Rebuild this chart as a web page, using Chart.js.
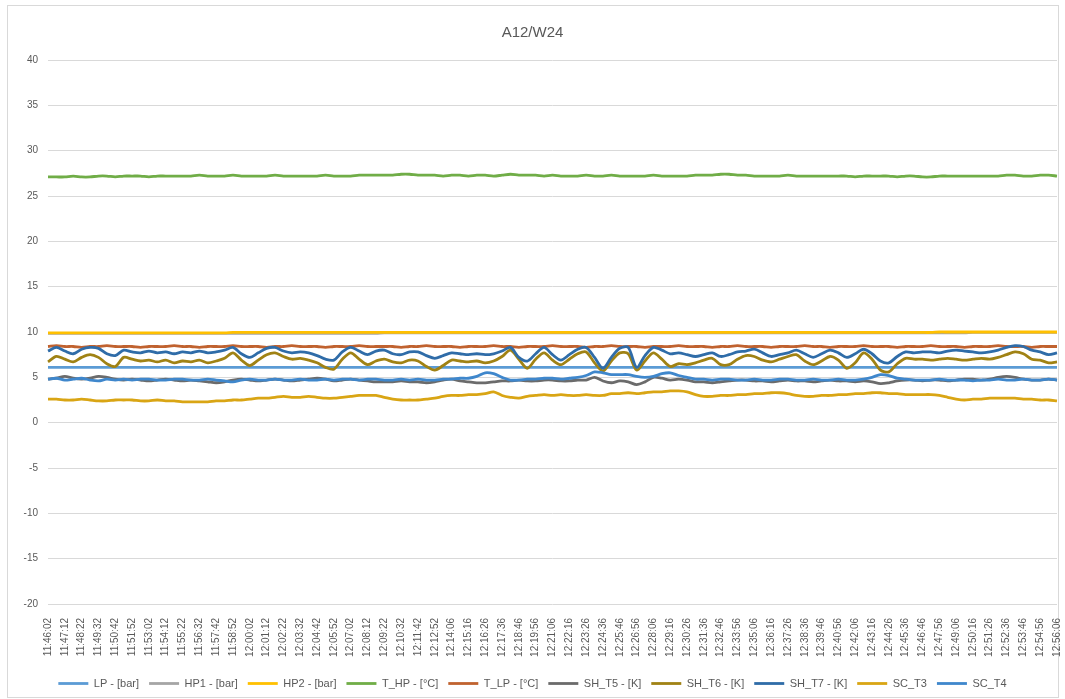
<!DOCTYPE html>
<html>
<head>
<meta charset="utf-8">
<script src="https://cdn.jsdelivr.net/npm/chart.js@4.4.1/dist/chart.umd.min.js"></script>
<style>
  html, body { margin: 0; padding: 0; background: #fff; }
  #frame { position: absolute; left: 7px; top: 5px; width: 1050px; height: 691px; border: 1px solid #d9d9d9; }
  #wrap { position: absolute; left: 0; top: 0; width: 1065px; height: 699px; }
</style>
</head>
<body>
<div id="frame"></div>
<div id="wrap"><canvas id="chart"></canvas></div>
<script>
// time labels shown on the x axis (one every 70 s), data every ~35 s
const tickLabels = [
  '11:46:02','11:47:12','11:48:22','11:49:32','11:50:42','11:51:52','11:53:02','11:54:12',
  '11:55:22','11:56:32','11:57:42','11:58:52','12:00:02','12:01:12','12:02:22','12:03:32',
  '12:04:42','12:05:52','12:07:02','12:08:12','12:09:22','12:10:32','12:11:42','12:12:52',
  '12:14:06','12:15:16','12:16:26','12:17:36','12:18:46','12:19:56','12:21:06','12:22:16',
  '12:23:26','12:24:36','12:25:46','12:26:56','12:28:06','12:29:16','12:30:26','12:31:36',
  '12:32:46','12:33:56','12:35:06','12:36:16','12:37:26','12:38:36','12:39:46','12:40:56',
  '12:42:06','12:43:16','12:44:26','12:45:36','12:46:46','12:47:56','12:49:06','12:50:16',
  '12:51:26','12:52:36','12:53:46','12:54:56','12:56:06'
];

const seriesNames = ['LP - [bar]', 'HP1 - [bar]', 'HP2 - [bar]', 'T_HP - [°C]', 'T_LP - [°C]',
  'SH_T5 - [K]', 'SH_T6 - [K]', 'SH_T7 - [K]', 'SC_T3', 'SC_T4'];
const seriesColors = ['#5b9bd5', '#a5a5a5', '#ffc000', '#70ad47', '#c0622f',
  '#6b6b6b', '#a08214', '#2f6ca8', '#d9a514', '#3f87cc'];

const lp = [
  6.1,6.1,6.1,6.1,6.1,6.1,6.1,6.1,6.1,6.1,
  6.1,6.1,6.1,6.1,6.1,6.1,6.1,6.1,6.1,6.1,
  6.1,6.1,6.1,6.1,6.1,6.1,6.1,6.1,6.1,6.1,
  6.1,6.1,6.1,6.1,6.1,6.1,6.1,6.1,6.1,6.1,
  6.1,6.1,6.1,6.1,6.1,6.1,6.1,6.1,6.1,6.1,
  6.1,6.1,6.1,6.1,6.1,6.1,6.1,6.1,6.1,6.1,
  6.1,6.1,6.1,6.1,6.1,6.1,6.1,6.1,6.1,6.1,
  6.1,6.1,6.1,6.1,6.1,6.1,6.1,6.1,6.1,6.1,
  6.1,6.1,6.1,6.1,6.1,6.1,6.1,6.1,6.1,6.1,
  6.1,6.1,6.1,6.1,6.1,6.1,6.1,6.1,6.1,6.1,
  6.1,6.1,6.1,6.1,6.1,6.1,6.1,6.1,6.1,6.1,
  6.1,6.1,6.1,6.1,6.1,6.1,6.1,6.1,6.1,6.1,
  6.1
];
const hp1 = [
  9.85,9.85,9.85,9.85,9.85,9.85,9.85,9.85,9.85,9.85,
  9.85,9.85,9.85,9.85,9.85,9.85,9.85,9.85,9.85,9.85,
  9.85,9.85,9.85,9.85,9.85,9.85,9.85,9.85,9.85,9.85,
  9.85,9.85,9.85,9.85,9.85,9.85,9.85,9.85,9.85,9.85,
  9.9,9.9,9.9,9.9,9.9,9.9,9.9,9.9,9.9,9.9,
  9.9,9.9,9.9,9.9,9.9,9.9,9.9,9.9,9.9,9.9,
  9.9,9.9,9.9,9.9,9.9,9.9,9.9,9.9,9.9,9.9,
  9.9,9.9,9.9,9.9,9.9,9.9,9.9,9.9,9.9,9.9,
  9.9,9.9,9.9,9.9,9.9,9.9,9.9,9.9,9.9,9.9,
  9.9,9.9,9.9,9.9,9.9,9.9,9.9,9.9,9.9,9.9,
  9.9,9.9,9.9,9.9,9.9,9.9,9.9,9.9,9.9,9.9,
  9.95,9.95,9.95,9.95,9.95,9.95,9.95,9.95,9.95,9.95,
  9.95
];
const hp2 = [
  9.9,9.9,9.9,9.9,9.9,9.9,9.9,9.9,9.9,9.9,
  9.9,9.9,9.9,9.9,9.9,9.9,9.9,9.9,9.9,9.9,
  9.9,9.9,9.95,9.95,9.95,9.95,9.95,9.95,9.95,9.95,
  9.95,9.95,9.95,9.95,9.95,9.95,9.95,9.95,9.95,9.95,
  9.95,9.95,9.95,9.95,9.95,9.95,9.95,9.95,9.95,9.95,
  9.95,9.95,9.95,9.95,9.95,9.95,9.95,9.95,9.95,9.95,
  9.95,9.95,9.95,9.95,9.95,9.95,9.95,9.95,9.95,9.95,
  9.95,9.95,9.95,9.95,9.95,9.95,9.95,9.95,9.95,9.95,
  9.95,9.95,9.95,9.95,9.95,9.95,9.95,9.95,9.95,9.95,
  9.95,9.95,9.95,9.95,9.95,9.95,9.95,9.95,9.95,9.95,
  9.95,9.95,9.95,9.95,9.95,9.95,10.0,10.0,10.0,10.0,
  10.0,10.0,10.0,10.0,10.0,10.0,10.0,10.0,10.0,10.0,
  10.0
];
const tHp = [
  27.1,27.1,27.1,27.2,27.1,27.1,27.2,27.2,27.1,27.2,
  27.2,27.2,27.1,27.2,27.2,27.2,27.2,27.2,27.3,27.2,
  27.2,27.2,27.3,27.2,27.2,27.2,27.2,27.3,27.2,27.2,
  27.2,27.2,27.2,27.3,27.2,27.2,27.2,27.3,27.3,27.3,
  27.3,27.3,27.4,27.4,27.3,27.3,27.3,27.2,27.3,27.3,
  27.2,27.3,27.3,27.2,27.3,27.4,27.3,27.3,27.3,27.2,
  27.3,27.2,27.2,27.2,27.3,27.2,27.2,27.3,27.2,27.2,
  27.2,27.2,27.3,27.2,27.2,27.2,27.2,27.3,27.3,27.3,
  27.4,27.4,27.3,27.3,27.2,27.2,27.2,27.2,27.3,27.2,
  27.2,27.2,27.2,27.2,27.2,27.2,27.1,27.2,27.2,27.2,
  27.2,27.1,27.2,27.2,27.1,27.1,27.2,27.2,27.2,27.2,
  27.2,27.2,27.2,27.2,27.3,27.3,27.2,27.2,27.3,27.3,
  27.2
];
const tLp = [
  8.4,8.5,8.4,8.4,8.3,8.4,8.4,8.5,8.4,8.4,
  8.4,8.3,8.4,8.4,8.4,8.5,8.4,8.4,8.3,8.4,
  8.4,8.4,8.5,8.4,8.4,8.4,8.3,8.4,8.4,8.5,
  8.4,8.4,8.4,8.3,8.4,8.4,8.4,8.5,8.4,8.4,
  8.4,8.4,8.3,8.4,8.4,8.5,8.4,8.4,8.4,8.3,
  8.4,8.4,8.4,8.5,8.4,8.4,8.3,8.4,8.4,8.4,
  8.5,8.4,8.4,8.4,8.3,8.4,8.4,8.5,8.4,8.4,
  8.4,8.3,8.4,8.4,8.4,8.5,8.4,8.4,8.4,8.3,
  8.4,8.4,8.5,8.4,8.4,8.4,8.3,8.4,8.4,8.4,
  8.5,8.4,8.4,8.3,8.4,8.4,8.4,8.5,8.4,8.4,
  8.4,8.3,8.4,8.4,8.4,8.5,8.4,8.4,8.4,8.3,
  8.4,8.4,8.4,8.5,8.4,8.4,8.4,8.3,8.4,8.4,
  8.4
];
const shT5 = [
  4.8,4.9,5.1,4.9,4.8,4.9,5.1,5.0,4.8,4.7,
  4.8,4.7,4.6,4.7,4.8,4.7,4.6,4.7,4.6,4.5,
  4.4,4.5,4.7,4.8,4.7,4.6,4.7,4.8,4.7,4.6,
  4.7,4.8,4.9,4.8,4.6,4.7,4.8,4.7,4.6,4.5,
  4.5,4.5,4.6,4.5,4.5,4.4,4.5,4.7,4.8,4.6,
  4.5,4.4,4.4,4.5,4.6,4.6,4.7,4.6,4.6,4.7,
  4.7,4.6,4.6,4.7,4.7,5.0,4.6,4.4,4.6,4.5,
  4.2,4.5,5.0,4.9,4.7,4.8,4.7,4.5,4.5,4.4,
  4.5,4.6,4.7,4.7,4.6,4.6,4.5,4.6,4.7,4.6,
  4.6,4.5,4.6,4.7,4.6,4.6,4.5,4.6,4.5,4.3,
  4.4,4.6,4.7,4.7,4.6,4.7,4.7,4.6,4.7,4.8,
  4.8,4.7,4.8,5.0,5.1,5.0,4.8,4.7,4.7,4.8,
  4.7
];
const shT6 = [
  6.7,7.3,7.0,6.7,7.2,7.5,7.2,6.5,6.2,7.2,
  7.0,6.8,6.9,6.7,6.9,6.6,6.8,6.7,6.9,6.6,
  6.8,7.1,7.7,6.9,6.3,6.9,7.5,7.7,7.3,7.0,
  7.1,6.9,6.6,6.1,5.9,7.0,7.7,7.0,6.4,6.8,
  7.0,6.7,6.6,6.9,6.8,6.2,5.8,6.3,6.9,6.8,
  6.7,6.8,6.6,6.8,7.3,8.0,7.0,6.0,7.0,7.7,
  6.9,6.4,7.0,7.6,7.8,6.6,5.7,6.8,7.7,7.6,
  5.8,6.8,7.7,7.0,6.2,6.5,6.4,6.6,6.9,7.1,
  6.4,6.4,7.0,7.4,7.3,6.9,6.7,7.0,7.3,7.5,
  6.8,6.4,6.8,7.3,6.9,6.0,6.6,7.7,7.0,5.8,
  5.6,6.5,7.1,7.0,7.0,6.9,7.0,7.1,7.0,6.9,
  7.0,7.1,7.0,7.2,7.5,7.8,7.6,7.0,6.9,6.6,
  6.7
];
const shT7 = [
  7.9,8.3,7.9,7.6,8.1,8.3,8.2,7.6,7.4,8.0,
  7.8,7.7,7.9,7.7,7.8,7.6,7.8,7.7,7.9,7.7,
  7.8,8.0,8.3,7.6,7.2,7.7,8.2,8.3,7.9,7.7,
  7.8,7.7,7.4,7.0,6.9,7.8,8.3,7.9,7.5,7.9,
  8.0,7.6,7.5,7.8,7.8,7.4,7.1,7.4,7.7,7.6,
  7.5,7.6,7.5,7.6,7.9,8.3,7.2,6.8,7.6,8.3,
  7.5,6.9,7.5,8.1,8.3,7.2,6.0,7.2,8.2,8.3,
  6.1,7.4,8.3,8.0,7.6,7.7,7.5,7.3,7.5,7.7,
  7.3,7.5,7.8,7.9,8.1,7.7,7.3,7.5,7.7,8.0,
  7.6,7.2,7.6,8.0,7.7,7.2,7.6,8.1,7.6,6.8,
  6.6,7.3,7.8,7.7,7.8,7.8,7.7,7.9,8.0,7.9,
  7.8,7.7,7.8,8.0,8.3,8.5,8.4,8.0,7.8,7.5,
  7.7
];
const scT3 = [
  2.6,2.6,2.5,2.5,2.6,2.5,2.4,2.4,2.5,2.5,
  2.5,2.4,2.4,2.5,2.4,2.4,2.3,2.3,2.3,2.3,
  2.4,2.4,2.5,2.5,2.6,2.7,2.7,2.8,2.9,2.8,
  2.8,2.9,2.8,2.7,2.7,2.8,2.9,3.0,3.0,3.0,
  2.8,2.6,2.5,2.5,2.5,2.6,2.7,2.9,3.0,3.0,
  3.1,3.1,3.2,3.4,3.0,2.8,2.7,2.9,3.0,3.1,
  3.0,3.1,3.0,3.0,3.1,3.0,3.0,3.2,3.2,3.3,
  3.2,3.3,3.4,3.4,3.5,3.5,3.4,3.1,2.9,2.9,
  3.0,3.0,3.1,3.1,3.2,3.2,3.3,3.3,3.2,3.0,
  2.9,2.9,3.0,3.0,3.1,3.1,3.2,3.2,3.3,3.3,
  3.2,3.2,3.1,3.1,3.1,3.1,3.0,2.8,2.6,2.5,
  2.6,2.6,2.7,2.7,2.7,2.7,2.6,2.6,2.5,2.5,
  2.4
];
const scT4 = [
  4.8,4.9,4.7,4.8,4.9,4.7,4.6,4.8,4.7,4.8,
  4.7,4.8,4.8,4.7,4.7,4.8,4.8,4.7,4.7,4.8,
  4.7,4.6,4.5,4.7,4.8,4.7,4.7,4.8,4.7,4.7,
  4.8,4.7,4.7,4.8,4.7,4.8,4.8,4.7,4.8,4.8,
  4.7,4.7,4.8,4.7,4.8,4.7,4.7,4.8,4.8,4.9,
  4.9,5.1,5.5,5.4,5.0,4.7,4.7,4.8,4.8,4.9,
  4.9,4.8,4.9,5.0,5.2,5.6,5.5,5.3,5.3,5.3,
  5.1,5.0,5.1,5.4,5.5,5.2,5.0,4.8,4.8,4.7,
  4.8,4.8,4.7,4.7,4.8,4.7,4.7,4.8,4.8,4.7,
  4.7,4.8,4.7,4.7,4.8,4.7,4.7,4.8,5.0,5.3,
  5.2,4.9,4.8,4.7,4.7,4.7,4.8,4.7,4.7,4.7,
  4.6,4.7,4.7,4.8,4.7,4.7,4.8,4.7,4.7,4.8,
  4.7
];

const seriesValues = [lp, hp1, hp2, tHp, tLp, shT5, shT6, shT7, scT3, scT4];

// one category per data point, only every second one carries a tick label
const labels = [];
tickLabels.forEach((t, i) => {
  labels.push(t);
  if (i < tickLabels.length - 1) labels.push('');
});

const datasets = seriesNames.map((name, i) => ({
  label: name,
  data: seriesValues[i],
  borderColor: seriesColors[i],
  backgroundColor: seriesColors[i],
  borderWidth: 2.8,
  pointRadius: 0,
  tension: 0.3,
  fill: false,
  order: seriesNames.length - i   // later series drawn on top, like Excel
}));

const grey = '#595959';

const chart = new Chart(document.getElementById('chart'), {
  type: 'line',
  data: { labels: labels, datasets: datasets },
  options: {
    responsive: true,
    maintainAspectRatio: false,
    animation: false,
    layout: { padding: { left: 8, right: 8, top: 6, bottom: 0 } },
    plugins: {
      title: {
        display: true,
        text: 'A12/W24',
        color: grey,
        font: { family: 'Liberation Sans', size: 15, weight: 'normal' },
        padding: { top: 18, bottom: 18 }
      },
      legend: {
        position: 'bottom',
        labels: {
          usePointStyle: true,
          pointStyle: 'line',
          pointStyleWidth: 30,
          color: grey,
          font: { family: 'Liberation Sans', size: 11 },
          padding: 10,
          sort: (a, b) => a.datasetIndex - b.datasetIndex
        }
      },
      tooltip: { enabled: true }
    },
    scales: {
      x: {
        grid: { display: false },
        border: { display: false },
        ticks: {
          autoSkip: false,
          maxRotation: 90,
          minRotation: 90,
          padding: 6,
          color: grey,
          font: { family: 'Liberation Sans', size: 10 }
        },
        afterFit: (s) => { s.height = 64; s.paddingLeft = 0; s.paddingRight = 0; }
      },
      y: {
        min: -20,
        max: 40,
        ticks: {
          stepSize: 5,
          padding: 10,
          color: grey,
          font: { family: 'Liberation Sans', size: 10 }
        },
        grid: { color: '#d9d9d9', drawTicks: false },
        border: { display: false },
        afterFit: (s) => { s.width = 40; }
      }
    }
  }
});
</script>
</body>
</html>
